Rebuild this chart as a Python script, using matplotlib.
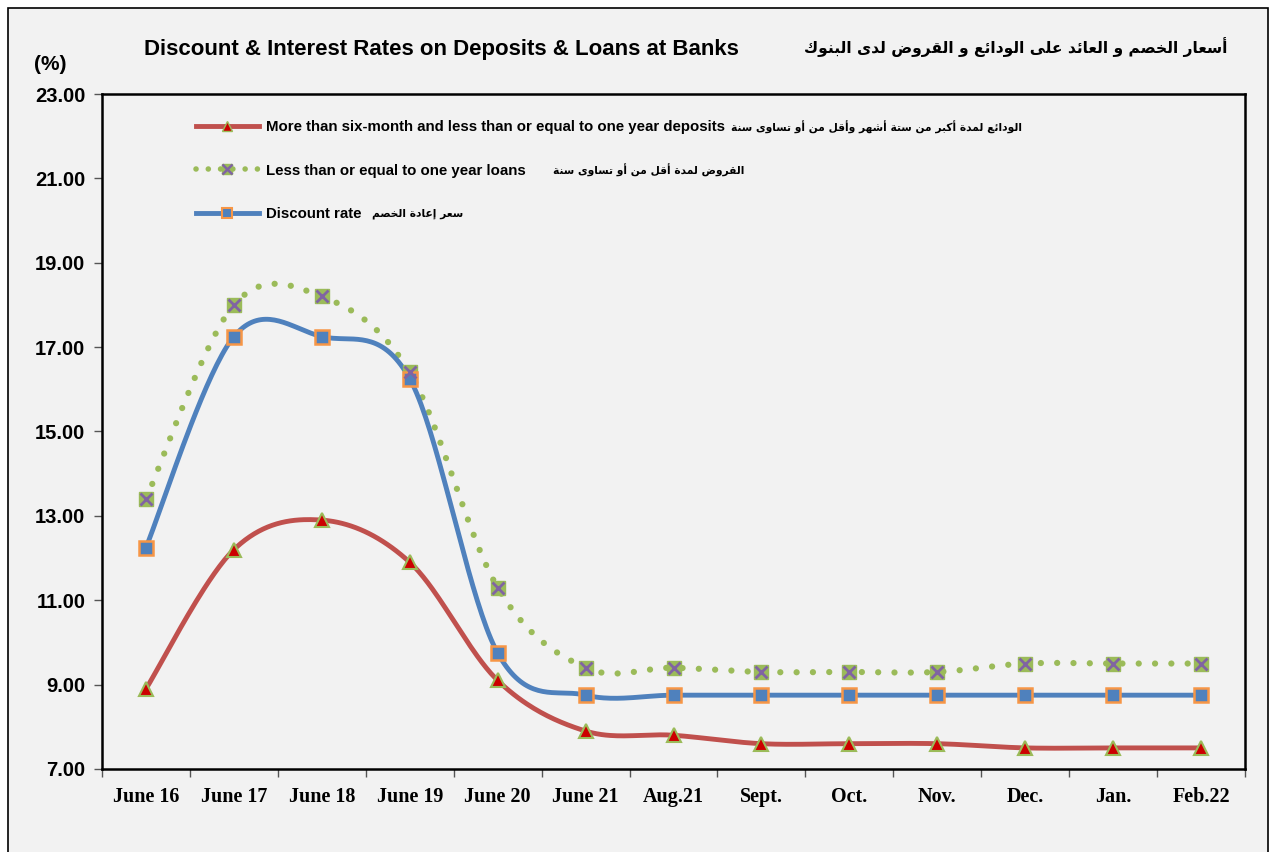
import matplotlib
matplotlib.use("Agg")
import matplotlib.pyplot as plt
import numpy as np
from matplotlib.lines import Line2D
from matplotlib.patches import Rectangle

# data
months = ['June 16', 'June 17', 'June 18', 'June 19', 'June 20', 'June 21', 'Aug.21',
          'Sept.', 'Oct.', 'Nov.', 'Dec.', 'Jan.', 'Feb.22']
deposits = [8.9, 12.2, 12.9, 11.9, 9.1, 7.9, 7.8, 7.6, 7.6, 7.6, 7.5, 7.5, 7.5]
loans = [13.4, 18.0, 18.2, 16.4, 11.3, 9.4, 9.4, 9.3, 9.3, 9.3, 9.5, 9.5, 9.5]
discount = [12.25, 17.25, 17.25, 16.25, 9.75, 8.75, 8.75, 8.75, 8.75, 8.75, 8.75, 8.75, 8.75]
yticks = [7, 9, 11, 13, 15, 17, 19, 21, 23]

title_en = 'Discount & Interest Rates on Deposits & Loans at Banks'
title_ar = 'أسعار الخصم و العائد على الودائع و القروض لدى البنوك'
lab_en = ['More than six-month and less than or equal to one year deposits',
          'Less than or equal to one year loans',
          'Discount rate']
lab_ar = ['الودائع لمدة أكبر من ستة أشهر وأقل من أو تساوى سنة',
          'القروض لمدة أقل من أو تساوى سنة',
          'سعر إعادة الخصم']

# minimal arabic shaping (matplotlib does no shaping / bidi)
AR = {'ء': (0xFE80, 1), 'آ': (0xFE81, 2), 'أ': (0xFE83, 2), 'ؤ': (0xFE85, 2), 'إ': (0xFE87, 2),
      'ئ': (0xFE89, 4), 'ا': (0xFE8D, 2), 'ب': (0xFE8F, 4), 'ة': (0xFE93, 2), 'ت': (0xFE95, 4),
      'ث': (0xFE99, 4), 'ج': (0xFE9D, 4), 'ح': (0xFEA1, 4), 'خ': (0xFEA5, 4), 'د': (0xFEA9, 2),
      'ذ': (0xFEAB, 2), 'ر': (0xFEAD, 2), 'ز': (0xFEAF, 2), 'س': (0xFEB1, 4), 'ش': (0xFEB5, 4),
      'ص': (0xFEB9, 4), 'ض': (0xFEBD, 4), 'ط': (0xFEC1, 4), 'ظ': (0xFEC5, 4), 'ع': (0xFEC9, 4),
      'غ': (0xFECD, 4), 'ف': (0xFED1, 4), 'ق': (0xFED5, 4), 'ك': (0xFED9, 4), 'ل': (0xFEDD, 4),
      'م': (0xFEE1, 4), 'ن': (0xFEE5, 4), 'ه': (0xFEE9, 4), 'و': (0xFEED, 2), 'ى': (0xFEEF, 2),
      'ي': (0xFEF1, 4)}


def shape_ar(s):
    out = []
    for i, ch in enumerate(s):
        if ch not in AR:
            out.append(ch)
            continue
        base, n = AR[ch]
        prev = s[i - 1] if i > 0 else ''
        nxt = s[i + 1] if i + 1 < len(s) else ''
        jp = n > 1 and prev in AR and AR[prev][1] == 4
        jn = n == 4 and nxt in AR and AR[nxt][1] > 1
        if jp and jn:
            off = 3
        elif jn:
            off = 2
        elif jp:
            off = 1
        else:
            off = 0
        out.append(chr(base + off))
    return ''.join(out)[::-1]


def smooth(y, npts=40):
    # excel-like smoothed line (catmull-rom bezier)
    y = np.asarray(y, float)
    x = np.arange(len(y), dtype=float)
    xs, ys = [], []
    t = np.linspace(0, 1, npts)
    for i in range(len(y) - 1):
        i0 = max(i - 1, 0)
        i3 = min(i + 2, len(y) - 1)
        p0 = np.array([x[i], y[i]])
        p3 = np.array([x[i + 1], y[i + 1]])
        c1 = p0 + (p3 - np.array([x[i0], y[i0]])) / 6
        c2 = p3 - (np.array([x[i3], y[i3]]) - p0) / 6
        b = ((1 - t) ** 3)[:, None] * p0 + (3 * (1 - t) ** 2 * t)[:, None] * c1 \
            + (3 * (1 - t) * t ** 2)[:, None] * c2 + (t ** 3)[:, None] * p3
        xs.extend(b[:, 0])
        ys.extend(b[:, 1])
    return np.array(xs), np.array(ys)


bg = '#f2f2f2'
red = '#c0504d'
green = '#9bbb59'
blue = '#4f81bd'
orange = '#f79646'
purple = '#8064a2'

fig = plt.figure(figsize=(12.71, 8.52), dpi=100, facecolor='white')
fig.patches.append(Rectangle((8 / 1271, -0.05), 1260 / 1271, 1.05 - 8 / 852, transform=fig.transFigure,
                             facecolor=bg, edgecolor='black', linewidth=1.2, zorder=-1))
ax = fig.add_axes([102 / 1271, 1 - 769 / 852, 1143 / 1271, 675 / 852])
ax.set_facecolor(bg)

x = np.arange(len(months))

xs, ys = smooth(loans)
ax.plot(xs, ys, color=green, linewidth=4.5, linestyle=(0, (0.01, 2.6)), dash_capstyle='round', zorder=2)
ax.plot(x, loans, linestyle='none', marker='s', markersize=10, markerfacecolor=green,
        markeredgecolor=green, zorder=4)
ax.plot(x, loans, linestyle='none', marker='x', markersize=9, markeredgecolor=purple,
        markeredgewidth=2, zorder=5)

xs, ys = smooth(discount)
ax.plot(xs, ys, color=blue, linewidth=3.5, solid_capstyle='round', zorder=3)
ax.plot(x, discount, linestyle='none', marker='s', markersize=9.5, markerfacecolor=blue,
        markeredgecolor=orange, markeredgewidth=1.8, zorder=4)

xs, ys = smooth(deposits)
ax.plot(xs, ys, color=red, linewidth=3.5, solid_capstyle='round', zorder=3)
ax.plot(x, deposits, linestyle='none', marker='^', markersize=10, markerfacecolor='#cc0000',
        markeredgecolor=green, markeredgewidth=1.5, zorder=4)

ax.set_xlim(-0.5, len(months) - 0.5)
ax.set_ylim(7, 23)
ax.set_yticks(yticks)
ax.set_yticklabels(['%.2f' % v for v in yticks], fontsize=14.5, fontweight='bold', family='Liberation Sans')
ax.set_xticks(x)
ax.set_xticklabels(months, fontsize=14.5, fontweight='bold', family='Liberation Serif')
ax.set_xticks(np.arange(len(months) + 1) - 0.5, minor=True)
ax.tick_params(axis='x', which='major', length=0, pad=13)
ax.tick_params(axis='x', which='minor', length=6, width=1, color='#555555')
ax.tick_params(axis='y', length=6, width=1, color='#555555', pad=6)
for sp in ax.spines.values():
    sp.set_linewidth(1.8)

# legend
h_dep = Line2D([], [], color=red, linewidth=3.5, marker='^', markersize=7,
               markerfacecolor='#cc0000', markeredgecolor=green)
h_loan = Line2D([], [], color=green, linewidth=4, linestyle=(0, (0.01, 2.2)), dash_capstyle='round',
                marker='s', markersize=7, markerfacecolor=green, markeredgecolor=green)
h_loan_x = Line2D([], [], linestyle='none', marker='x', markersize=6.5, markeredgecolor=purple,
                  markeredgewidth=1.8)
h_disc = Line2D([], [], color=blue, linewidth=3.5, marker='s', markersize=7,
                markerfacecolor=blue, markeredgecolor=orange, markeredgewidth=1.5)
leg = ax.legend([h_dep, (h_loan, h_loan_x), h_disc], lab_en, loc='upper left',
                bbox_to_anchor=(0.07, 0.981), frameon=False, handlelength=4.2, handletextpad=0.5,
                labelspacing=1.95, numpoints=1,
                prop={'family': 'Liberation Sans', 'weight': 'bold', 'size': 10.8})

fig.text(441 / 1271, 1 - 50 / 852, title_en, ha='center', va='center', fontsize=16,
         fontweight='bold', family='Liberation Sans')
fig.text(1227 / 1271, 1 - 47 / 852, shape_ar(title_ar), ha='right', va='center', fontsize=11.2,
         fontweight='bold', family='DejaVu Sans')
fig.text(50 / 1271, 1 - 65 / 852, '(%)', ha='center', va='center', fontsize=15,
         fontweight='bold', family='Liberation Sans')

# arabic part of each legend entry, placed right after the english text
fig.canvas.draw()
W, H = fig.canvas.get_width_height()
gaps = [6, 27, 10]  # pixels
for txt, ar, g in zip(leg.get_texts(), lab_ar, gaps):
    bb = txt.get_window_extent()
    fig.text((bb.x1 + g) / W, (bb.y0 + bb.y1) / 2 / H, shape_ar(ar), ha='left', va='center',
             fontsize=7.7, fontweight='bold', family='DejaVu Sans')

fig.savefig('out.png', dpi=100, facecolor=fig.get_facecolor())
